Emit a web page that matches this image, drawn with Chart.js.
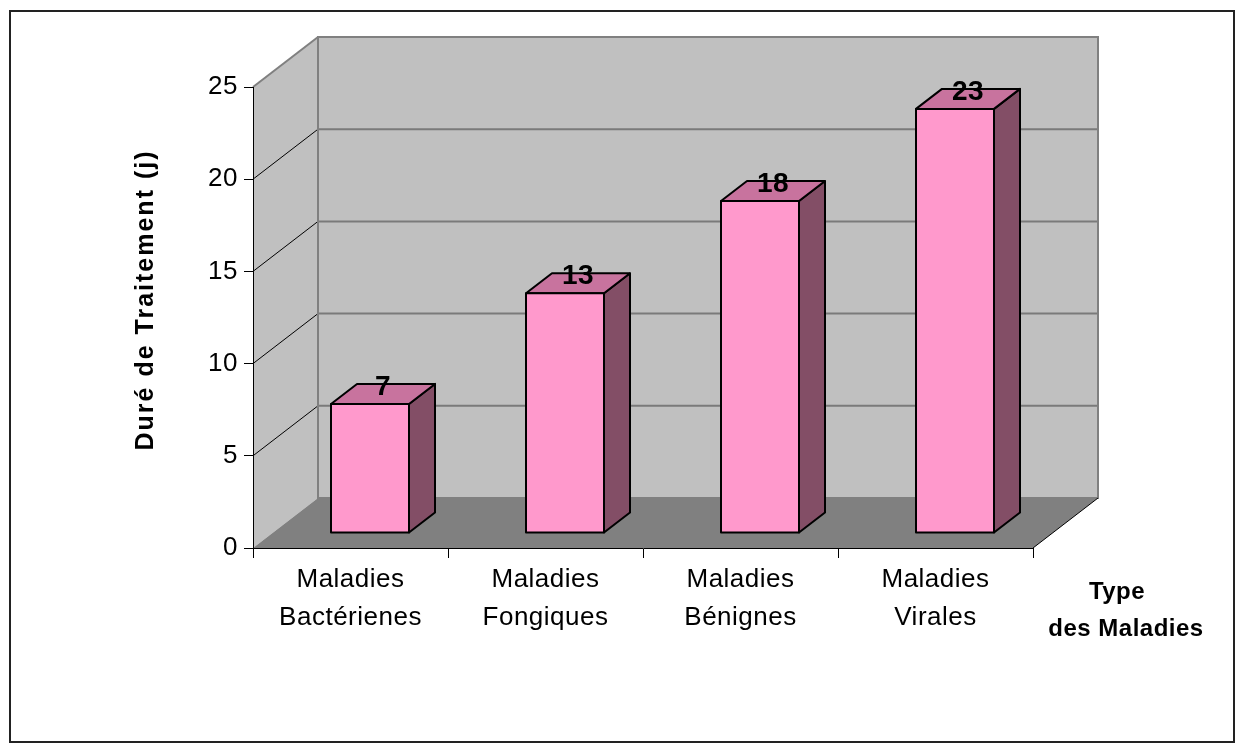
<!DOCTYPE html>
<html>
<head>
<meta charset="utf-8">
<script src="https://cdn.jsdelivr.net/npm/chart.js@4.4.1/dist/chart.umd.min.js"></script>
<style>
html, body { margin: 0; padding: 0; background: #fff; }
#wrap { width: 1239px; height: 751px; }
</style>
</head>
<body>
<div id="wrap"><canvas id="myChart" width="1239" height="751"></canvas></div>
<script>
//Données du graphique
const categories = [['Maladies', 'Bactérienes'], ['Maladies', 'Fongiques'], ['Maladies', 'Bénignes'], ['Maladies', 'Virales']];
const durees = [7, 13, 18, 23];
const yTicks = [0, 5, 10, 15, 20, 25];
const yTitle = 'Duré de Traitement (j)';
const xTitle = ['Type', 'des Maladies'];

//Effet 3D (profondeur du graphique, position des barres)
const DX = 65, DY = -50;
const F0 = 0.3, F1 = 0.7;
const FONT = "'Liberation Sans', Arial, sans-serif";

function poly(ctx, pts, fill, stroke, lw) {
    ctx.beginPath();
    ctx.moveTo(pts[0][0], pts[0][1]);
    for (let i = 1; i < pts.length; i++) ctx.lineTo(pts[i][0], pts[i][1]);
    ctx.closePath();
    if (fill) { ctx.fillStyle = fill; ctx.fill(); }
    if (stroke) { ctx.strokeStyle = stroke; ctx.lineWidth = lw; ctx.stroke(); }
}

function line(ctx, x1, y1, x2, y2, color, lw) {
    ctx.beginPath();
    ctx.moveTo(x1, y1);
    ctx.lineTo(x2, y2);
    ctx.strokeStyle = color;
    ctx.lineWidth = lw;
    ctx.stroke();
}

//Murs, sol et titres
const decor3d = {
    id: 'decor3d',
    beforeDraw(chart) {
        const ctx = chart.ctx;
        const a = chart.chartArea;
        const y = chart.scales.y;
        const L = a.left, R = a.right;
        const y0 = y.getPixelForValue(0);
        const yTop = y.getPixelForValue(yTicks[yTicks.length - 1]);
        ctx.letterSpacing = '0.5px';
        ctx.save();

        //cadre extérieur
        ctx.strokeStyle = '#222';
        ctx.lineWidth = 2;
        ctx.strokeRect(10, 11, 1224, 731);

        //mur gauche
        poly(ctx, [[L, y0], [L, yTop], [L + DX, yTop + DY], [L + DX, y0 + DY]], '#c0c0c0', null, 0);
        //mur du fond
        poly(ctx, [[L + DX, yTop + DY], [R + DX, yTop + DY], [R + DX, y0 + DY], [L + DX, y0 + DY]], '#c0c0c0', null, 0);
        //sol
        poly(ctx, [[L, y0], [R, y0], [R + DX, y0 + DY], [L + DX, y0 + DY]], '#808080', null, 0);

        //quadrillage
        yTicks.forEach(function (v) {
            const py = y.getPixelForValue(v);
            if (v > 0 && v < yTicks[yTicks.length - 1]) {
                line(ctx, L, py, L + DX, py + DY, '#000', 1);
                line(ctx, L + DX, py + DY, R + DX, py + DY, '#7a7a7a', 2);
            }
        });
        line(ctx, L, yTop, L + DX, yTop + DY, '#808080', 2);
        ctx.strokeStyle = '#808080';
        ctx.lineWidth = 2;
        ctx.strokeRect(L + DX, yTop + DY, R - L, y0 - yTop);
        line(ctx, R, y0, R + DX, y0 + DY, '#000', 1);

        //titres des axes
        ctx.fillStyle = '#000';
        ctx.textAlign = 'center';
        ctx.textBaseline = 'middle';
        ctx.save();
        ctx.letterSpacing = '2px';
        ctx.font = 'bold 25px ' + FONT;
        ctx.translate(146, 300);
        ctx.rotate(-Math.PI / 2);
        ctx.fillText(yTitle, 0, 0);
        ctx.restore();
        ctx.font = 'bold 24px ' + FONT;
        ctx.fillText(xTitle[0], 1117, 592);
        ctx.fillText(xTitle[1], 1126, 629);
        ctx.restore();
    },
    afterDatasetsDraw(chart) {
        const ctx = chart.ctx;
        const meta = chart.getDatasetMeta(0);
        const ddx = (F1 - F0) * DX, ddy = (F1 - F0) * DY;
        ctx.save();
        ctx.lineJoin = 'round';
        meta.data.forEach(function (bar, i) {
            const p = bar.getProps(['x', 'y', 'base', 'width'], true);
            const x0 = p.x - p.width / 2 + F0 * DX;
            const x1 = p.x + p.width / 2 + F0 * DX;
            const yt = p.y + F0 * DY;
            const yb = p.base + F0 * DY;
            //côté
            poly(ctx, [[x1, yt], [x1 + ddx, yt + ddy], [x1 + ddx, yb + ddy], [x1, yb]], '#834e66', '#000', 2);
            //dessus
            poly(ctx, [[x0, yt], [x1, yt], [x1 + ddx, yt + ddy], [x0 + ddx, yt + ddy]], '#c8739e', '#000', 2);
            //face
            poly(ctx, [[x0, yt], [x1, yt], [x1, yb], [x0, yb]], '#ff99cc', '#000', 2);
            //étiquette
            ctx.fillStyle = '#000';
            ctx.font = 'bold 28px ' + FONT;
            ctx.textAlign = 'center';
            ctx.textBaseline = 'middle';
            ctx.fillText(String(durees[i]), (x0 + x1) / 2 + ddx / 2, yt - 17);
        });
        ctx.restore();
    }
};

Chart.defaults.font.family = FONT;
Chart.defaults.color = '#000';

const ctx = document.getElementById('myChart').getContext('2d');
const myChart = new Chart(ctx, {
    type: 'bar',
    data: {
        labels: categories,
        datasets: [{
            label: yTitle,
            data: durees,
            backgroundColor: 'rgba(0,0,0,0)',
            borderWidth: 0,
            barPercentage: 0.4,
            categoryPercentage: 1
        }]
    },
    options: {
        responsive: false,
        animation: false,
        events: [],
        layout: {
            padding: { top: 87, right: 206, left: 0, bottom: 0 }
        },
        plugins: {
            legend: { display: false },
            tooltip: { enabled: false }
        },
        scales: {
            x: {
                afterFit: (scale) => { scale.height = 203; },
                grid: {
                    offset: true,
                    drawOnChartArea: false,
                    drawTicks: true,
                    tickLength: 10,
                    color: '#000'
                },
                border: { display: true, color: '#000', width: 1 },
                ticks: {
                    padding: 3,
                    font: { size: 26, lineHeight: 1.45 },
                    color: '#000',
                    maxRotation: 0
                }
            },
            y: {
                min: 0,
                max: 25,
                afterFit: (scale) => { scale.width = 253; },
                afterBuildTicks: (scale) => { scale.ticks = yTicks.map(v => ({ value: v })); },
                grid: {
                    drawOnChartArea: false,
                    drawTicks: true,
                    tickLength: 9,
                    color: '#000'
                },
                border: { display: true, color: '#000', width: 1 },
                ticks: {
                    padding: 6,
                    font: { size: 26 },
                    color: '#000'
                }
            }
        }
    },
    plugins: [decor3d]
});
</script>
</body>
</html>
